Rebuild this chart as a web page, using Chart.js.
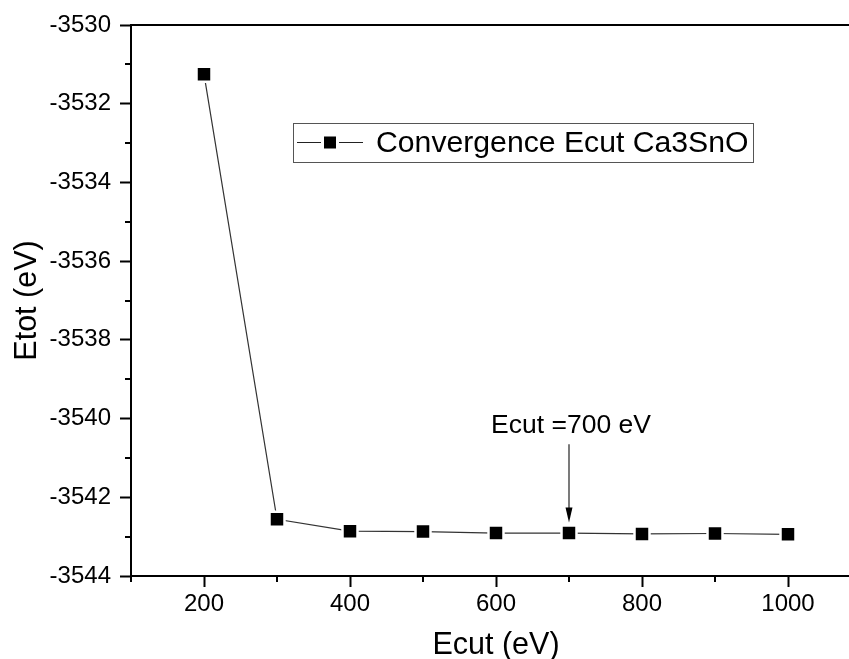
<!DOCTYPE html>
<html>
<head>
<meta charset="utf-8">
<title>Convergence Ecut Ca3SnO</title>
<script src="https://cdn.jsdelivr.net/npm/chart.js@4.4.1/dist/chart.umd.min.js"></script>
<style>
    body { margin: 0; background: #fff; }
    .frame { width: 849px; height: 659px; overflow: hidden; position: relative; }
    canvas { display: block; }
</style>
</head>
<body>
<div class="frame">
    <canvas id="ecutChart" width="880" height="659"></canvas>
</div>
<script>
// Cutoff energies (eV) and total energies (eV)
const ecut = [200, 300, 400, 500, 600, 700, 800, 900, 1000];
const etot = [-3531.25, -3542.56, -3542.86, -3542.87, -3542.91, -3542.91, -3542.93, -3542.92, -3542.94];

// Axis ticks
const xTicks = [200, 400, 600, 800, 1000];
const yTicks = [-3544, -3542, -3540, -3538, -3536, -3534, -3532, -3530];

const seriesLabel = 'Convergence Ecut Ca3SnO';

// Arrow marking the chosen cutoff
const noteText = 'Ecut =700 eV';
const noteX = 700;
const noteTextY = -3540.17;
const arrowFrom = -3540.65;
const arrowTo = -3542.64;

const FONT = "'Liberation Sans', Arial, sans-serif";
Chart.defaults.font.family = FONT;
Chart.defaults.color = '#000';

// minor ticks halfway between major ones, top frame line
const framePlugin = {
    id: 'frame',
    afterDraw(chart) {
        const ctx = chart.ctx;
        const { left, right, top, bottom } = chart.chartArea;
        const x = chart.scales.x;
        const y = chart.scales.y;
        ctx.save();
        ctx.strokeStyle = '#000';
        ctx.lineWidth = 2;

        ctx.beginPath();
        ctx.moveTo(left - 1, top);
        ctx.lineTo(right, top);
        ctx.stroke();

        ctx.beginPath();
        for (let v = x.min; v <= x.max; v += 100) {
            if (xTicks.includes(v)) continue;
            const px = Math.round(x.getPixelForValue(v));
            ctx.moveTo(px, bottom);
            ctx.lineTo(px, bottom + 6);
        }
        for (let v = y.min + 1; v < y.max; v += 2) {
            const py = Math.round(y.getPixelForValue(v));
            ctx.moveTo(left, py);
            ctx.lineTo(left - 6, py);
        }
        ctx.stroke();
        ctx.restore();
    }
};

// text + arrow pointing at the 700 eV point
const notePlugin = {
    id: 'note',
    afterDatasetsDraw(chart) {
        const ctx = chart.ctx;
        const x = chart.scales.x;
        const y = chart.scales.y;
        const px = x.getPixelForValue(noteX);
        const y0 = y.getPixelForValue(arrowFrom);
        const y1 = y.getPixelForValue(arrowTo);
        ctx.save();
        ctx.fillStyle = '#000';
        ctx.font = '26.5px ' + FONT;
        ctx.textAlign = 'center';
        ctx.textBaseline = 'middle';
        ctx.fillText(noteText, px + 2, y.getPixelForValue(noteTextY));

        ctx.strokeStyle = '#222';
        ctx.lineWidth = 1.2;
        ctx.beginPath();
        ctx.moveTo(px, y0);
        ctx.lineTo(px, y1 - 8);
        ctx.stroke();
        ctx.beginPath();
        ctx.moveTo(px, y1);
        ctx.lineTo(px - 3.5, y1 - 15);
        ctx.lineTo(px + 3.5, y1 - 15);
        ctx.closePath();
        ctx.fill();
        ctx.restore();
    }
};

// boxed legend with line + square symbol
const legendPlugin = {
    id: 'boxLegend',
    afterDraw(chart) {
        const ctx = chart.ctx;
        const bx = 293, by = 123, bw = 460, bh = 39;
        const cy = by + bh / 2;
        ctx.save();
        ctx.strokeStyle = '#555';
        ctx.lineWidth = 1;
        ctx.strokeRect(bx + 0.5, by + 0.5, bw, bh);

        ctx.strokeStyle = '#222';
        ctx.lineWidth = 1.2;
        ctx.beginPath();
        ctx.moveTo(bx + 4, cy);
        ctx.lineTo(bx + 28, cy);
        ctx.moveTo(bx + 46, cy);
        ctx.lineTo(bx + 70, cy);
        ctx.stroke();
        ctx.fillStyle = '#000';
        ctx.fillRect(bx + 31, cy - 6, 12, 12);

        ctx.font = '30.2px ' + FONT;
        ctx.textAlign = 'left';
        ctx.textBaseline = 'middle';
        ctx.fillText(seriesLabel, bx + 83, cy + 1);
        ctx.restore();
    }
};

const chart = new Chart(document.getElementById('ecutChart'), {
    type: 'line',
    data: {
        datasets: [{
            label: seriesLabel,
            data: ecut.map((e, i) => ({ x: e, y: etot[i] })),
            borderColor: '#333',
            borderWidth: 1.2,
            tension: 0,
            pointStyle: 'rect',
            pointRadius: 10.6,
            pointHoverRadius: 10.6,
            pointBackgroundColor: '#000',
            pointBorderColor: '#fff',
            pointBorderWidth: 2.5
        }]
    },
    options: {
        responsive: false,
        animation: false,
        devicePixelRatio: 1,
        layout: { padding: { top: 25, right: 19, left: 0, bottom: 0 } },
        plugins: {
            legend: { display: false },
            tooltip: { enabled: false }
        },
        scales: {
            x: {
                type: 'linear',
                min: 100,
                max: 1100,
                afterBuildTicks: scale => { scale.ticks = xTicks.map(v => ({ value: v })); },
                afterFit: scale => { scale.height = 83; },
                ticks: {
                    callback: v => String(v),
                    font: { size: 24 },
                    padding: 3,
                    maxRotation: 0
                },
                grid: {
                    drawOnChartArea: false,
                    tickLength: 11,
                    tickWidth: 2,
                    tickColor: '#000'
                },
                border: { display: true, color: '#000', width: 2 },
                title: {
                    display: true,
                    text: 'Ecut (eV)',
                    font: { size: 30.5, lineHeight: 0.85 },
                    padding: { top: 0, bottom: 0 }
                }
            },
            y: {
                type: 'linear',
                min: -3544,
                max: -3530,
                afterBuildTicks: scale => { scale.ticks = yTicks.map(v => ({ value: v })); },
                afterFit: scale => { scale.width = 131; },
                ticks: {
                    callback: v => String(v),
                    font: { size: 24 },
                    padding: 9
                },
                grid: {
                    drawOnChartArea: false,
                    tickLength: 11,
                    tickWidth: 2,
                    tickColor: '#000'
                },
                border: { display: true, color: '#000', width: 2 },
                title: {
                    display: true,
                    text: 'Etot (eV)',
                    font: { size: 30.5, lineHeight: 1 },
                    padding: { top: 12, bottom: 0 }
                }
            }
        }
    },
    plugins: [framePlugin, notePlugin, legendPlugin]
});
</script>
</body>
</html>
